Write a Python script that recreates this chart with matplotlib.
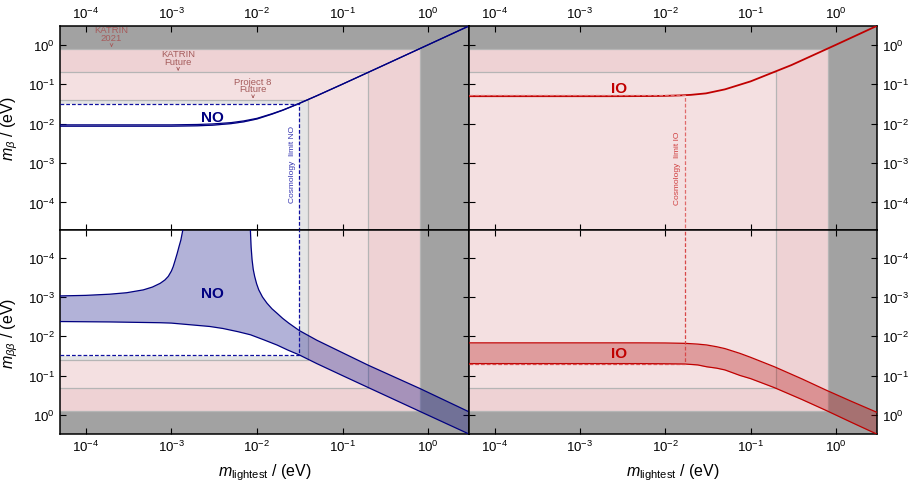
import matplotlib
matplotlib.use('Agg')
import matplotlib.pyplot as plt
import numpy as np
from matplotlib.ticker import LogLocator, NullLocator

plt.rcParams['font.family'] = ['Liberation Sans', 'DejaVu Sans']
plt.rcParams['mathtext.fontset'] = 'custom'
plt.rcParams['mathtext.rm'] = 'Liberation Sans'
plt.rcParams['mathtext.it'] = 'Liberation Sans:italic'
plt.rcParams['mathtext.bf'] = 'Liberation Sans:bold'

# ---------------------------------------------------------------------------
# Data (all masses in eV)
# ---------------------------------------------------------------------------

X_RANGE = (5e-5, 3.0)
Y_RANGE = (2e-5, 3.0)

# cosmological bound on the lightest mass for each ordering
COSMO_NO = 0.031
COSMO_IO = 0.017

# beta-decay limits / sensitivities
limit_values = [0.04, 0.2, 0.8]
limit_names = ['Project 8\nFuture', 'KATRIN\nFuture', 'KATRIN\n2021']

# m_beta, normal ordering (narrow band)
mb_x = [5e-5, 1e-4, 1e-3, 2e-3, 3e-3, 5e-3, 7e-3, 1e-2, 1.5e-2, 2e-2, 3e-2,
        5e-2, 0.1, 0.3, 1.0, 3.0]
mb_no_hi = [0.0093, 0.0093, 0.0093, 0.0095, 0.0098, 0.0106, 0.0117, 0.0136,
            0.0178, 0.0221, 0.0315, 0.0510, 0.1005, 0.300, 1.0, 3.0]
mb_no_lo = [0.0086, 0.0086, 0.0086, 0.0088, 0.0091, 0.0100, 0.0111, 0.0131,
            0.0174, 0.0218, 0.0313, 0.0508, 0.1004, 0.300, 1.0, 3.0]

# m_beta, inverted ordering
mb_io = [0.0496, 0.0496, 0.0496, 0.0496, 0.0497, 0.0499, 0.0501, 0.0506,
         0.0520, 0.0537, 0.0585, 0.0740, 0.118, 0.305, 1.0, 3.0]

# m_betabeta, normal ordering: upper edge of the band
mbb_no_max_x = [5e-5, 1.9e-4, 7.4e-4, 1e-3, 2.8e-3, 4e-3, 6e-3, 8.4e-3, 1.2e-2,
                1.72e-2, 2.3e-2, 3.12e-2, 5e-2, 0.1, 0.2, 0.8, 3.0]
mbb_no_max = [0.0042, 0.0043, 0.0045, 0.0046, 0.0056, 0.0063, 0.0076, 0.0091,
              0.0122, 0.0166, 0.0223, 0.0295, 0.049, 0.099, 0.199, 0.80, 3.0]

# m_betabeta, normal ordering: lower edge (drops to zero inside the funnel)
mbb_no_min_x = [5e-5, 1e-4, 1.9e-4, 3e-4, 4.7e-4, 6e-4, 7.4e-4, 8.4e-4, 9.2e-4,
                1.0e-3, 1.05e-3, 1.11e-3, 1.17e-3, 1.23e-3, 1.29e-3, 1.36e-3,
                1.45e-3, 8.2e-3, 8.38e-3, 8.55e-3, 8.77e-3, 9.05e-3, 9.4e-3,
                9.9e-3, 1.05e-2, 1.16e-2, 1.31e-2, 1.5e-2, 1.72e-2, 2.0e-2,
                2.35e-2, 3.12e-2, 0.05, 0.1, 0.2, 0.8, 3.0]
mbb_no_min = [9.4e-4, 9.1e-4, 8.5e-4, 7.8e-4, 6.6e-4, 5.6e-4, 4.5e-4, 3.7e-4,
              3.0e-4, 2.2e-4, 1.7e-4, 1.15e-4, 7.8e-5, 5.2e-5, 3.6e-5, 2.0e-5,
              0.0, 0.0, 2.0e-5, 5.5e-5, 1.14e-4, 2.0e-4, 3.0e-4,
              4.6e-4, 6.6e-4, 1.0e-3, 1.44e-3, 2.0e-3, 2.6e-3, 3.5e-3,
              4.6e-3, 7.1e-3, 0.0125, 0.026, 0.054, 0.21, 0.82]

# m_betabeta, inverted ordering
mbb_io_x = [5e-5, 1e-4, 1e-3, 5e-3, 1e-2, 1.7e-2, 2.4e-2, 3.05e-2, 4e-2, 5e-2,
            7.5e-2, 0.1, 0.19, 0.4, 0.78, 1.5, 3.0]
mbb_io_min = [0.0146, 0.0146, 0.0146, 0.0146, 0.0147, 0.0150, 0.0157, 0.0165,
              0.0183, 0.0204, 0.027, 0.034, 0.059, 0.12, 0.235, 0.44, 0.84]
mbb_io_max = [0.049, 0.049, 0.049, 0.049, 0.0495, 0.0502, 0.053, 0.059, 0.064,
              0.071, 0.098, 0.118, 0.20, 0.40, 0.77, 1.5, 3.0]

# ---------------------------------------------------------------------------
# Styling
# ---------------------------------------------------------------------------

NO_LINE = '#000080'
IO_LINE = '#c00000'
IO_FILL = '#b00000'
LIGHT_GREY = '#e5e5e5'
LIMIT_COLORS = ['#f4e0e1', '#eed2d4', '#a2a2a2']
EDGE = '#b5b5b5'
LABEL_RED = '#a55c5c'


def shade_L(ax, level, color, edge=True):
    """Fill {x > level or y > level} and outline its inner corner."""
    x0, x1 = X_RANGE
    y0, y1 = Y_RANGE
    ax.fill([x0, level, level, x1, x1, x0], [level, level, y0, y0, y1, y1],
            color=color, lw=0, zorder=0)
    if edge:
        ax.plot([x0, level, level], [level, level, y0], color=EDGE, lw=0.9,
                zorder=0.5)


def setup(ax, inverted):
    ax.set_xscale('log')
    ax.set_yscale('log')
    ax.set_xlim(*X_RANGE)
    if inverted:
        ax.set_ylim(Y_RANGE[1], Y_RANGE[0])
    else:
        ax.set_ylim(*Y_RANGE)
    for axis in (ax.xaxis, ax.yaxis):
        axis.set_major_locator(LogLocator(base=10, numticks=20))
        axis.set_minor_locator(NullLocator())
    ax.tick_params(direction='in', top=True, bottom=True, left=True, right=True,
                   length=4, width=0.8, labelsize=9.5, pad=3.5,
                   labeltop=False, labelbottom=False,
                   labelleft=False, labelright=False)
    for sp in ax.spines.values():
        sp.set_linewidth(1.1)


def cosmo_lines(ax, x_c, level, color, ymark):
    ax.plot([X_RANGE[0], x_c, x_c], [level, level, ymark], ls=(0, (3, 1.6)),
            color=color, lw=0.9, zorder=4)


fig = plt.figure(figsize=(9.08, 4.81), dpi=100)
ax_tl = fig.add_axes([0.0661, 0.5198, 0.4504, 0.4241])
ax_tr = fig.add_axes([0.5165, 0.5198, 0.4490, 0.4241])
ax_bl = fig.add_axes([0.0661, 0.0956, 0.4504, 0.4241])
ax_br = fig.add_axes([0.5165, 0.0956, 0.4490, 0.4241])

for ax, inv in [(ax_tl, False), (ax_tr, False), (ax_bl, True), (ax_br, True)]:
    setup(ax, inv)

# exclusion / sensitivity regions
for ax in (ax_tl, ax_bl):
    shade_L(ax, COSMO_NO, LIGHT_GREY, edge=False)
    for lv, col in zip(limit_values, LIMIT_COLORS):
        shade_L(ax, lv, col)
for ax in (ax_tr, ax_br):
    ax.set_facecolor(LIMIT_COLORS[0])
    for lv, col in zip(limit_values[1:], LIMIT_COLORS[1:]):
        shade_L(ax, lv, col)

# --- m_beta, NO
ax_tl.fill_between(mb_x, mb_no_lo, mb_no_hi, color=NO_LINE, alpha=0.3, lw=0,
                   zorder=2)
ax_tl.plot(mb_x, mb_no_hi, color=NO_LINE, lw=0.9, zorder=3)
ax_tl.plot(mb_x, mb_no_lo, color=NO_LINE, lw=0.9, zorder=3)
cosmo_lines(ax_tl, COSMO_NO, np.interp(COSMO_NO, mb_x, mb_no_lo), '#1010a0',
            Y_RANGE[0])
ax_tl.text(3e-3, 0.015, 'NO', color=NO_LINE, fontsize=11, fontweight='bold',
           ha='center', va='center', zorder=5)
ax_tl.text(0.0262, 9.5e-4, 'Cosmology  limit NO', color='#3535b0', fontsize=6,
           rotation=90, ha='center', va='center', zorder=5)
# experiment labels with a small arrow down to the limit they refer to
for lv, name, xl in zip(limit_values, limit_names, [9e-3, 1.2e-3, 2e-4]):
    ax_tl.annotate(name, xy=(xl, lv), xytext=(0, 4.8), textcoords='offset points',
                   color=LABEL_RED, fontsize=6.8, ha='center', va='bottom',
                   linespacing=0.78, zorder=5,
                   arrowprops=dict(arrowstyle='->', color=LABEL_RED, lw=0.6,
                                   shrinkA=0.5, shrinkB=1.0,
                                   mutation_scale=5))

# --- m_beta, IO
ax_tr.plot(mb_x, mb_io, color=IO_LINE, lw=1.3, zorder=3)
cosmo_lines(ax_tr, COSMO_IO, np.interp(COSMO_IO, mb_x, mb_io), '#e06a6a',
            Y_RANGE[0])
ax_tr.text(2.9e-3, 0.081, 'IO', color=IO_LINE, fontsize=11, fontweight='bold',
           ha='center', va='center', zorder=5)
ax_tr.text(0.0139, 7.9e-4, 'Cosmology  limit IO', color='#d04040', fontsize=6,
           rotation=90, ha='center', va='center', zorder=5)

# --- m_betabeta, NO
lo = np.clip(mbb_no_min, 1e-12, None)
ax_bl.fill(np.concatenate([mbb_no_max_x, mbb_no_min_x[::-1]]),
           np.concatenate([mbb_no_max, lo[::-1]]),
           color=NO_LINE, alpha=0.3, lw=0, zorder=2)
ax_bl.plot(mbb_no_max_x, mbb_no_max, color=NO_LINE, lw=0.9, zorder=3)
ax_bl.plot(mbb_no_min_x, lo, color=NO_LINE, lw=0.9, zorder=3)
cosmo_lines(ax_bl, COSMO_NO, np.interp(COSMO_NO, mbb_no_max_x, mbb_no_max),
            '#1010a0', Y_RANGE[0])
ax_bl.text(3e-3, 8e-4, 'NO', color=NO_LINE, fontsize=11, fontweight='bold',
           ha='center', va='center', zorder=5)

# --- m_betabeta, IO
ax_br.fill_between(mbb_io_x, mbb_io_min, mbb_io_max, color=IO_FILL, alpha=0.3,
                   lw=0, zorder=2)
ax_br.plot(mbb_io_x, mbb_io_min, color=IO_LINE, lw=0.9, zorder=3)
ax_br.plot(mbb_io_x, mbb_io_max, color=IO_LINE, lw=0.9, zorder=3)
cosmo_lines(ax_br, COSMO_IO, np.interp(COSMO_IO, mbb_io_x, mbb_io_max),
            '#d84848', Y_RANGE[0])
ax_br.text(2.9e-3, 0.027, 'IO', color=IO_LINE, fontsize=11, fontweight='bold',
           ha='center', va='center', zorder=5)

# tick labels and axis titles
ax_tl.tick_params(labeltop=True, labelleft=True)
ax_tr.tick_params(labeltop=True, labelright=True)
ax_bl.tick_params(labelbottom=True, labelleft=True)
ax_br.tick_params(labelbottom=True, labelright=True)

ax_tl.set_ylabel(r'$m_\beta$ / (eV)', fontsize=11.5, labelpad=6)
ax_bl.set_ylabel(r'$m_{\beta\beta}$ / (eV)', fontsize=11.5, labelpad=6)
for ax in (ax_bl, ax_br):
    ax.set_xlabel(r'$m_{\mathrm{lightest}}$ / (eV)', fontsize=11.5, labelpad=5)

for ax in (ax_tr, ax_br):
    ax.set_zorder(1)

plt.savefig('out.png', dpi=100)
plt.close()
